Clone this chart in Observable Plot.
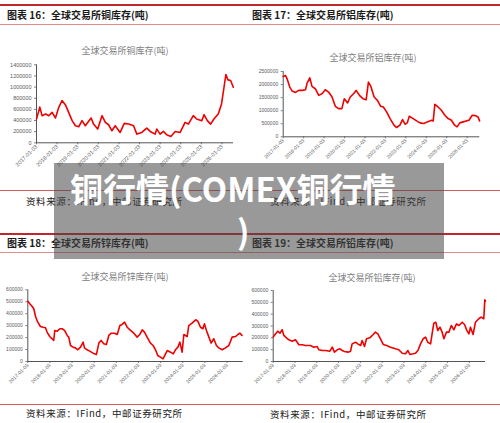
<!DOCTYPE html>
<html>
<head>
<meta charset="utf-8">
<script src="https://cdn.jsdelivr.net/npm/d3@7"></script>
<script src="https://cdn.jsdelivr.net/npm/@observablehq/plot@0.6"></script>
<style>
  html, body { margin: 0; padding: 0; background: #fff; }
  body { width: 500px; height: 423px; position: relative; overflow: hidden; font-family: "Noto Sans CJK SC", sans-serif; }
  .thick { position: absolute; left: 0; width: 500px; height: 2px; background: #c0272d; }
  .thin { position: absolute; left: 0; width: 500px; height: 1px; background: #e58a8a; }
  .head { position: absolute; font-size: 10px; font-weight: 700; color: #1a1a1a; line-height: 12px; white-space: nowrap; }
  .ctitle { position: absolute; font-size: 9px; color: #808080; line-height: 11px; white-space: nowrap; text-align: center; width: 200px; }
  .src { position: absolute; font-size: 9.5px; color: #1a1a1a; line-height: 12px; white-space: nowrap; letter-spacing: 0.6px; }
  .overlay { position: absolute; left: 54px; top: 163px; width: 390px; height: 96px; background: rgba(70,70,70,0.55); }
  .big { position: absolute; color: #fff; font-weight: 700; font-size: 33px; line-height: 42px; white-space: nowrap; font-family: "Noto Sans CJK SC", sans-serif; }
</style>
</head>
<body>
<script>
// ---------- data (decimal year, tonnes) ----------
const xTickLabels = ["2017-01-03","2018-01-03","2019-01-03","2020-01-03","2021-01-03","2022-01-03","2023-01-03","2024-01-03","2025-01-03","2026-01-03"];
const tickYears = [2017,2018,2019,2020,2021,2022,2023,2024,2025,2026];

const copperDates = [2017.00,2017.16,2017.27,2017.44,2017.60,2017.76,2017.92,2018.08,2018.24,2018.40,2018.56,2018.73,2018.89,2019.05,2019.21,2019.37,2019.53,2019.65,2019.77,2019.97,2020.18,2020.34,2020.50,2020.66,2020.82,2021.06,2021.26,2021.47,2021.71,2021.87,2022.11,2022.35,2022.52,2022.76,2022.84,2023.00,2023.16,2023.32,2023.52,2023.73,2023.97,2024.21,2024.37,2024.61,2024.77,2025.02,2025.13,2025.29,2025.45,2025.61,2025.82,2025.98,2026.10,2026.19,2026.29,2026.42,2026.55];
const copperStock = [427000,640000,487000,517000,487000,547000,445000,637000,757000,685000,547000,397000,306000,288000,397000,306000,385000,445000,336000,246000,487000,367000,324000,216000,306000,186000,349000,336000,306000,156000,186000,264000,204000,156000,246000,156000,204000,144000,114000,204000,186000,367000,336000,487000,427000,397000,505000,397000,336000,427000,517000,697000,997000,1225000,1129000,1117000,997000];
const copperTicks = [0,200000,400000,600000,800000,1000000,1200000,1400000];

const aluDates = [2017.00,2017.11,2017.19,2017.32,2017.44,2017.60,2017.76,2017.93,2018.09,2018.17,2018.30,2018.41,2018.57,2018.74,2018.90,2019.06,2019.22,2019.39,2019.55,2019.71,2019.87,2019.99,2020.15,2020.28,2020.44,2020.57,2020.73,2020.90,2021.06,2021.17,2021.29,2021.45,2021.61,2021.77,2021.90,2022.06,2022.23,2022.42,2022.55,2022.71,2022.84,2022.96,2023.07,2023.17,2023.36,2023.53,2023.69,2023.88,2024.05,2024.26,2024.34,2024.42,2024.58,2024.74,2024.91,2025.07,2025.23,2025.39,2025.51,2025.64,2025.80,2025.96,2026.09,2026.25,2026.41,2026.53,2026.61];
const aluStock = [2310000,2348000,2221000,1904000,1751000,1700000,1777000,1777000,1802000,2056000,2259000,1929000,1840000,1586000,1650000,1802000,1713000,1523000,1167000,1079000,1079000,1459000,1294000,1523000,1650000,1777000,1586000,1459000,1421000,2094000,1929000,1523000,1396000,1167000,1142000,952000,698000,444000,355000,444000,660000,482000,533000,787000,698000,609000,533000,508000,571000,634000,609000,1244000,1142000,1015000,825000,698000,634000,444000,381000,533000,571000,609000,634000,825000,812000,761000,609000];
const aluTicks = [0,500000,1000000,1500000,2000000,2500000];

const zincDates = [2017.00,2017.09,2017.20,2017.27,2017.35,2017.45,2017.57,2017.69,2017.80,2017.87,2017.99,2018.10,2018.17,2018.22,2018.33,2018.45,2018.55,2018.66,2018.78,2018.85,2018.93,2019.05,2019.15,2019.26,2019.38,2019.50,2019.56,2019.68,2019.80,2019.95,2020.10,2020.21,2020.31,2020.43,2020.55,2020.66,2020.77,2020.92,2021.04,2021.16,2021.26,2021.37,2021.49,2021.64,2021.79,2021.94,2022.06,2022.17,2022.27,2022.39,2022.54,2022.66,2022.77,2022.87,2022.99,2023.11,2023.22,2023.30,2023.45,2023.57,2023.67,2023.78,2023.87,2023.97,2024.05,2024.12,2024.20,2024.27,2024.42,2024.58,2024.68,2024.80,2024.91,2024.98,2025.07,2025.18,2025.28,2025.40,2025.52,2025.63,2025.78,2025.93,2026.08,2026.23,2026.38,2026.49,2026.58,2026.68];
const zincStock = [505000,483000,460000,441000,377000,329000,293000,287000,282000,246000,209000,190000,176000,260000,254000,274000,274000,260000,218000,204000,134000,120000,114000,98000,120000,162000,114000,98000,87000,70000,59000,154000,176000,148000,142000,218000,237000,237000,226000,301000,310000,329000,287000,260000,237000,204000,226000,265000,246000,204000,154000,134000,98000,50000,36000,22000,64000,92000,78000,64000,98000,120000,162000,78000,226000,218000,209000,301000,321000,349000,338000,287000,274000,315000,260000,204000,154000,190000,134000,114000,98000,114000,134000,204000,209000,226000,237000,218000];
const zincTicks = [0,100000,200000,300000,400000,500000,600000];

const leadDates = [2017.00,2017.11,2017.21,2017.31,2017.41,2017.49,2017.61,2017.72,2017.87,2018.02,2018.10,2018.18,2018.33,2018.48,2018.71,2018.87,2019.02,2019.09,2019.25,2019.40,2019.60,2019.71,2019.81,2019.94,2020.06,2020.17,2020.27,2020.43,2020.55,2020.62,2020.78,2020.88,2021.01,2021.08,2021.19,2021.28,2021.43,2021.59,2021.69,2021.80,2021.92,2022.05,2022.20,2022.38,2022.61,2022.76,2022.92,2023.07,2023.18,2023.27,2023.42,2023.53,2023.64,2023.76,2023.88,2023.99,2024.09,2024.22,2024.29,2024.37,2024.46,2024.55,2024.65,2024.75,2024.83,2024.95,2025.06,2025.17,2025.29,2025.41,2025.52,2025.67,2025.78,2025.87,2025.98,2026.05,2026.17,2026.28,2026.43,2026.54,2026.66,2026.71,2026.74];
const leadStock = [206000,234000,256000,239000,268000,220000,200000,183000,172000,183000,163000,141000,141000,135000,135000,121000,127000,99000,93000,93000,87000,121000,79000,99000,107000,93000,85000,79000,87000,149000,163000,149000,135000,177000,127000,192000,200000,228000,248000,234000,192000,144000,135000,121000,107000,99000,70000,65000,93000,59000,65000,70000,93000,149000,192000,206000,163000,149000,234000,324000,332000,262000,290000,248000,192000,248000,248000,304000,268000,318000,304000,332000,313000,268000,234000,290000,228000,332000,361000,375000,361000,521000,510000];
const leadTicks = [0,100000,200000,300000,400000,500000,600000];

const headers = ["图表 16：全球交易所铜库存(吨)","图表 17：全球交易所铝库存(吨)","图表 18：全球交易所锌库存(吨)","图表 19：全球交易所铅库存(吨)"];
const chartTitles = ["全球交易所铜库存(吨)","全球交易所铝库存(吨)","全球交易所锌库存(吨)","全球交易所铅库存(吨)"];
const sourceText = "资料来源：IFind，中邮证券研究所";
const overlayLines = ["铜行情(COMEX铜行情", ")"];

// ---------- helpers ----------
function add(el) { document.body.appendChild(el); return el; }
function div(cls, style, text) {
  const d = document.createElement("div");
  d.className = cls;
  Object.assign(d.style, style);
  if (text != null) d.textContent = text;
  return add(d);
}

function panel({left, top, width, height, ml, mr, mt, mb, xEnd, yMax, yTicks, dates, values, fs}) {
  const data = dates.map((d, i) => ({x: d, y: values[i]}));
  const svg = Plot.plot({
    width, height,
    marginLeft: ml, marginRight: mr, marginTop: mt, marginBottom: mb,
    style: {background: "transparent", fontFamily: "'Liberation Sans', Arial, sans-serif", fontSize: fs + "px", color: "#595959", overflow: "visible"},
    x: {type: "linear", domain: [2017, xEnd]},
    y: {domain: [0, yMax]},
    marks: [
      Plot.axisY({ticks: yTicks, tickFormat: d => String(d), tickSize: 2, tickPadding: 3, fontSize: fs, stroke: "#808080", label: null}),
      Plot.axisX({ticks: tickYears, tickFormat: d => xTickLabels[Math.round(d) - 2017], tickRotate: -45, tickSize: 2, tickPadding: 1, fontSize: fs, stroke: "#808080", label: null}),
      Plot.ruleX([2017], {stroke: "#555", strokeWidth: 1}),
      Plot.ruleY([0], {stroke: "#555", strokeWidth: 1}),
      Plot.line(data, {x: "x", y: "y", stroke: "#f00000", strokeWidth: 1.6, strokeLinejoin: "round"})
    ]
  });
  svg.style.position = "absolute";
  svg.style.left = left + "px";
  svg.style.top = top + "px";
  add(svg);
}

// ---------- frame lines ----------
div("thick", {top: "4px"});
div("thin", {top: "24px"});
div("thin", {top: "190px", background: "#d9595f"});
div("thick", {top: "233px"});
div("thin", {top: "252px"});
div("thin", {top: "404px", background: "#d9595f"});

// headers
div("head", {left: "7px", top: "9px"}, headers[0]);
div("head", {left: "252px", top: "9px"}, headers[1]);
div("head", {left: "7px", top: "237px"}, headers[2]);
div("head", {left: "252px", top: "237px"}, headers[3]);

// chart titles
div("ctitle", {left: "25px", top: "45px"}, chartTitles[0]);
div("ctitle", {left: "273px", top: "52px"}, chartTitles[1]);
div("ctitle", {left: "25px", top: "271px"}, chartTitles[2]);
div("ctitle", {left: "272px", top: "272px"}, chartTitles[3]);

// sources
div("src", {left: "26px", top: "195px"}, sourceText);
div("src", {left: "270px", top: "195px"}, sourceText);
div("src", {left: "26px", top: "407px"}, sourceText);
div("src", {left: "270px", top: "408px"}, sourceText);

// ---------- charts ----------
panel({left: 0, top: 55, width: 250, height: 120, ml: 36, mr: 17, mt: 9.3, mb: 32.7, xEnd: 2026.56, yMax: 1400000, yTicks: copperTicks, dates: copperDates, values: copperStock, fs: 5.5});
panel({left: 250, top: 55, width: 250, height: 120, ml: 32.7, mr: 20.7, mt: 16, mb: 38.7, xEnd: 2026.62, yMax: 2500000, yTicks: aluTicks, dates: aluDates, values: aluStock, fs: 5});
panel({left: 0, top: 280, width: 250, height: 120, ml: 27.3, mr: 7.3, mt: 9.3, mb: 39, xEnd: 2026.73, yMax: 600000, yTicks: zincTicks, dates: zincDates, values: zincStock, fs: 5});
panel({left: 250, top: 280, width: 250, height: 120, ml: 22.7, mr: 15, mt: 10, mb: 39, xEnd: 2026.74, yMax: 600000, yTicks: leadTicks, dates: leadDates, values: leadStock, fs: 5});

// ---------- overlay ----------
div("overlay", {});
div("big", {left: "70px", top: "167px"}, overlayLines[0]);
div("big", {left: "237px", top: "209px"}, overlayLines[1]);
</script>
</body>
</html>
